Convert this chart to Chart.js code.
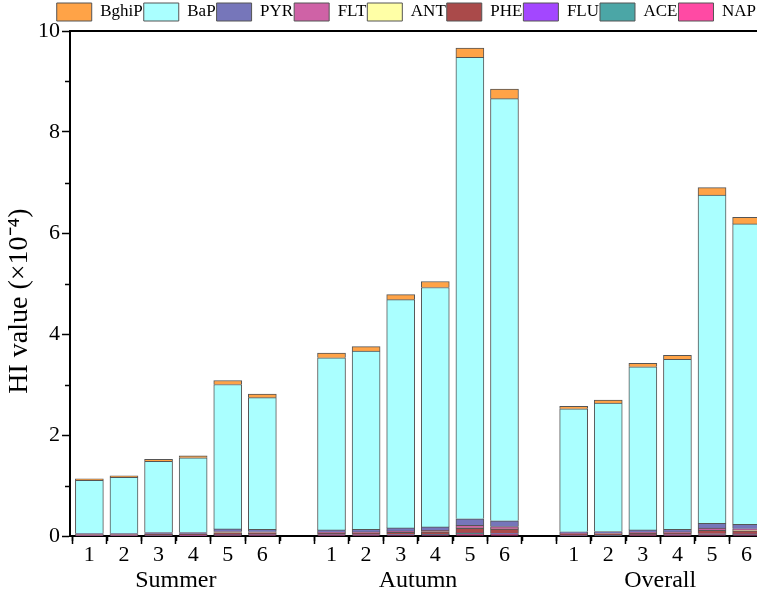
<!DOCTYPE html>
<html lang="en">
<head>
  <meta charset="UTF-8">
  <title>HI value by site and season</title>
  <script src="https://cdn.jsdelivr.net/npm/chart.js"></script>
  <style>
    * { margin: 0; padding: 0; box-sizing: border-box; }
    body { background: #fff; width: 757px; height: 596px; overflow: hidden; }
    #wrap { position: relative; width: 757px; height: 596px; }
  </style>
</head>
<body>
  <div id="wrap"><canvas id="hiChart"></canvas></div>

  <script>
    // groups and sites along the x axis (a blank slot between groups)
    const seasons = ['Summer', 'Autumn', 'Overall'];
    const sites = ['1', '2', '3', '4', '5', '6'];
    const xPos = [1, 2, 3, 4, 5, 6, 8, 9, 10, 11, 12, 13, 15, 16, 17, 18, 19, 20];
    const seasonPos = [3.5, 10.5, 17.5];
    const yTicks = [0, 2, 4, 6, 8, 10];

    // HI values (x10^-4), Summer 1-6, Autumn 1-6, Overall 1-6
    const NAP   = [0.005, 0.005, 0.009, 0.008, 0.018, 0.016, 0.015, 0.015, 0.019, 0.021, 0.041, 0.036, 0.009, 0.010, 0.014, 0.015, 0.028, 0.027];
    const ACE   = [0.002, 0.002, 0.002, 0.002, 0.005, 0.004, 0.004, 0.004, 0.005, 0.006, 0.010, 0.009, 0.003, 0.003, 0.004, 0.004, 0.008, 0.007];
    const FLU   = [0.002, 0.002, 0.002, 0.002, 0.004, 0.004, 0.004, 0.004, 0.005, 0.005, 0.010, 0.009, 0.003, 0.003, 0.004, 0.004, 0.008, 0.007];
    const PHE   = [0.013, 0.013, 0.019, 0.019, 0.038, 0.036, 0.032, 0.035, 0.044, 0.049, 0.092, 0.081, 0.023, 0.024, 0.033, 0.035, 0.068, 0.062];
    const ANT   = [0.001, 0.001, 0.001, 0.002, 0.003, 0.003, 0.002, 0.003, 0.003, 0.004, 0.007, 0.006, 0.002, 0.002, 0.002, 0.003, 0.005, 0.005];
    const FLT   = [0.008, 0.008, 0.010, 0.011, 0.022, 0.020, 0.018, 0.020, 0.024, 0.027, 0.050, 0.045, 0.013, 0.014, 0.018, 0.020, 0.038, 0.035];
    const PYR   = [0.019, 0.019, 0.027, 0.026, 0.050, 0.047, 0.045, 0.049, 0.060, 0.068, 0.130, 0.114, 0.032, 0.034, 0.045, 0.049, 0.095, 0.087];
    const BaP   = [1.05, 1.11, 1.41, 1.48, 2.86, 2.61, 3.41, 3.53, 4.52, 4.74, 9.14, 8.36, 2.435, 2.54, 3.23, 3.37, 6.50, 5.95];
    const BghiP = [0.03, 0.03, 0.04, 0.04, 0.08, 0.07, 0.09, 0.09, 0.10, 0.12, 0.18, 0.19, 0.05, 0.06, 0.07, 0.08, 0.15, 0.13];

    const serif = "'Liberation Serif', 'Times New Roman', serif";

    // site label for every bar position
    const siteAt = {};
    xPos.forEach((p, i) => { siteAt[p] = sites[i % sites.length]; });

    function toPoints(values) {
      return values.map((v, i) => ({ x: xPos[i], y: v }));
    }

    // stacked from the bottom up; legend is reversed to read top-down
    const series = [
      { label: 'NAP',   data: NAP,   color: '#FF4AA4' },
      { label: 'ACE',   data: ACE,   color: '#4BA6A6' },
      { label: 'FLU',   data: FLU,   color: '#A347FF' },
      { label: 'PHE',   data: PHE,   color: '#AA4A4A' },
      { label: 'ANT',   data: ANT,   color: '#FFFFA6' },
      { label: 'FLT',   data: FLT,   color: '#CF62A6' },
      { label: 'PYR',   data: PYR,   color: '#7676BA' },
      { label: 'BaP',   data: BaP,   color: '#AAFFFF' },
      { label: 'BghiP', data: BghiP, color: '#FFA347' }
    ];

    // top frame line and the short minor ticks
    const frameAndMinor = {
      id: 'frameAndMinor',
      afterDraw(chart) {
        const { ctx, chartArea, scales } = chart;
        ctx.save();
        ctx.strokeStyle = '#000';
        ctx.lineWidth = 2;
        ctx.beginPath();
        ctx.moveTo(chartArea.left - 1, chartArea.top);
        ctx.lineTo(chartArea.right + 1, chartArea.top);
        ctx.stroke();

        ctx.lineWidth = 1.5;
        ctx.beginPath();
        for (let v = 0.5; v < scales.x.max; v += 1) {
          if (v < scales.x.min) continue;
          const px = Math.round(scales.x.getPixelForValue(v)) + 0.5;
          ctx.moveTo(px, chartArea.bottom);
          ctx.lineTo(px, chartArea.bottom + 5);
        }
        for (let v = 1; v < 10; v += 2) {
          const py = Math.round(scales.y.getPixelForValue(v)) + 0.5;
          ctx.moveTo(chartArea.left, py);
          ctx.lineTo(chartArea.left - 5, py);
        }
        ctx.stroke();
        ctx.restore();
      }
    };

    new Chart(document.getElementById('hiChart'), {
      type: 'bar',
      data: {
        datasets: series.map(s => ({
          label: s.label,
          data: toPoints(s.data),
          backgroundColor: s.color,
          borderColor: '#555',
          borderWidth: 1,
          barThickness: 28
        }))
      },
      options: {
        responsive: true,
        maintainAspectRatio: false,
        animation: false,
        layout: { padding: { top: 2, right: 0, bottom: 8, left: 4 } },
        plugins: {
          tooltip: { enabled: false },
          legend: {
            position: 'top',
            align: 'end',
            reverse: true,
            labels: {
              boxWidth: 35,
              boxHeight: 18,
              padding: 1,
              color: '#000',
              font: { family: serif, size: 17 }
            }
          }
        },
        scales: {
          x: {
            type: 'linear',
            stacked: true,
            offset: false,
            min: 0.44,
            max: 20.3,
            weight: 0,
            afterBuildTicks: scale => {
              const t = [];
              for (let v = 1; v <= 20; v++) t.push({ value: v });
              scale.ticks = t;
            },
            ticks: {
              autoSkip: false,
              maxRotation: 0,
              padding: 0,
              color: '#000',
              font: { family: serif, size: 22, lineHeight: 1 },
              callback: v => siteAt[v] || ''
            },
            grid: { drawOnChartArea: false, tickLength: 8, color: '#000', tickWidth: 1.5 },
            border: { color: '#000', width: 2 }
          },
          x2: {
            type: 'linear',
            position: 'bottom',
            offset: false,
            min: 0.44,
            max: 20.3,
            weight: 1,
            afterBuildTicks: scale => {
              scale.ticks = seasonPos.map(v => ({ value: v }));
            },
            ticks: {
              autoSkip: false,
              maxRotation: 0,
              padding: -5,
              color: '#000',
              font: { family: serif, size: 24, lineHeight: 1 },
              callback: (v, i) => seasons[i]
            },
            grid: { display: false },
            border: { display: false }
          },
          y: {
            stacked: true,
            min: 0,
            max: 10,
            afterBuildTicks: scale => {
              scale.ticks = yTicks.map(v => ({ value: v }));
            },
            ticks: {
              padding: 2,
              color: '#000',
              font: { family: serif, size: 22 }
            },
            grid: { drawOnChartArea: false, tickLength: 8, color: '#000', tickWidth: 1.5 },
            border: { color: '#000', width: 2 },
            title: {
              display: true,
              text: 'HI value (×10⁻⁴)     ',
              color: '#000',
              padding: 2,
              font: { family: serif, size: 28, lineHeight: 1 }
            }
          }
        }
      },
      plugins: [frameAndMinor]
    });
  </script>
</body>
</html>
